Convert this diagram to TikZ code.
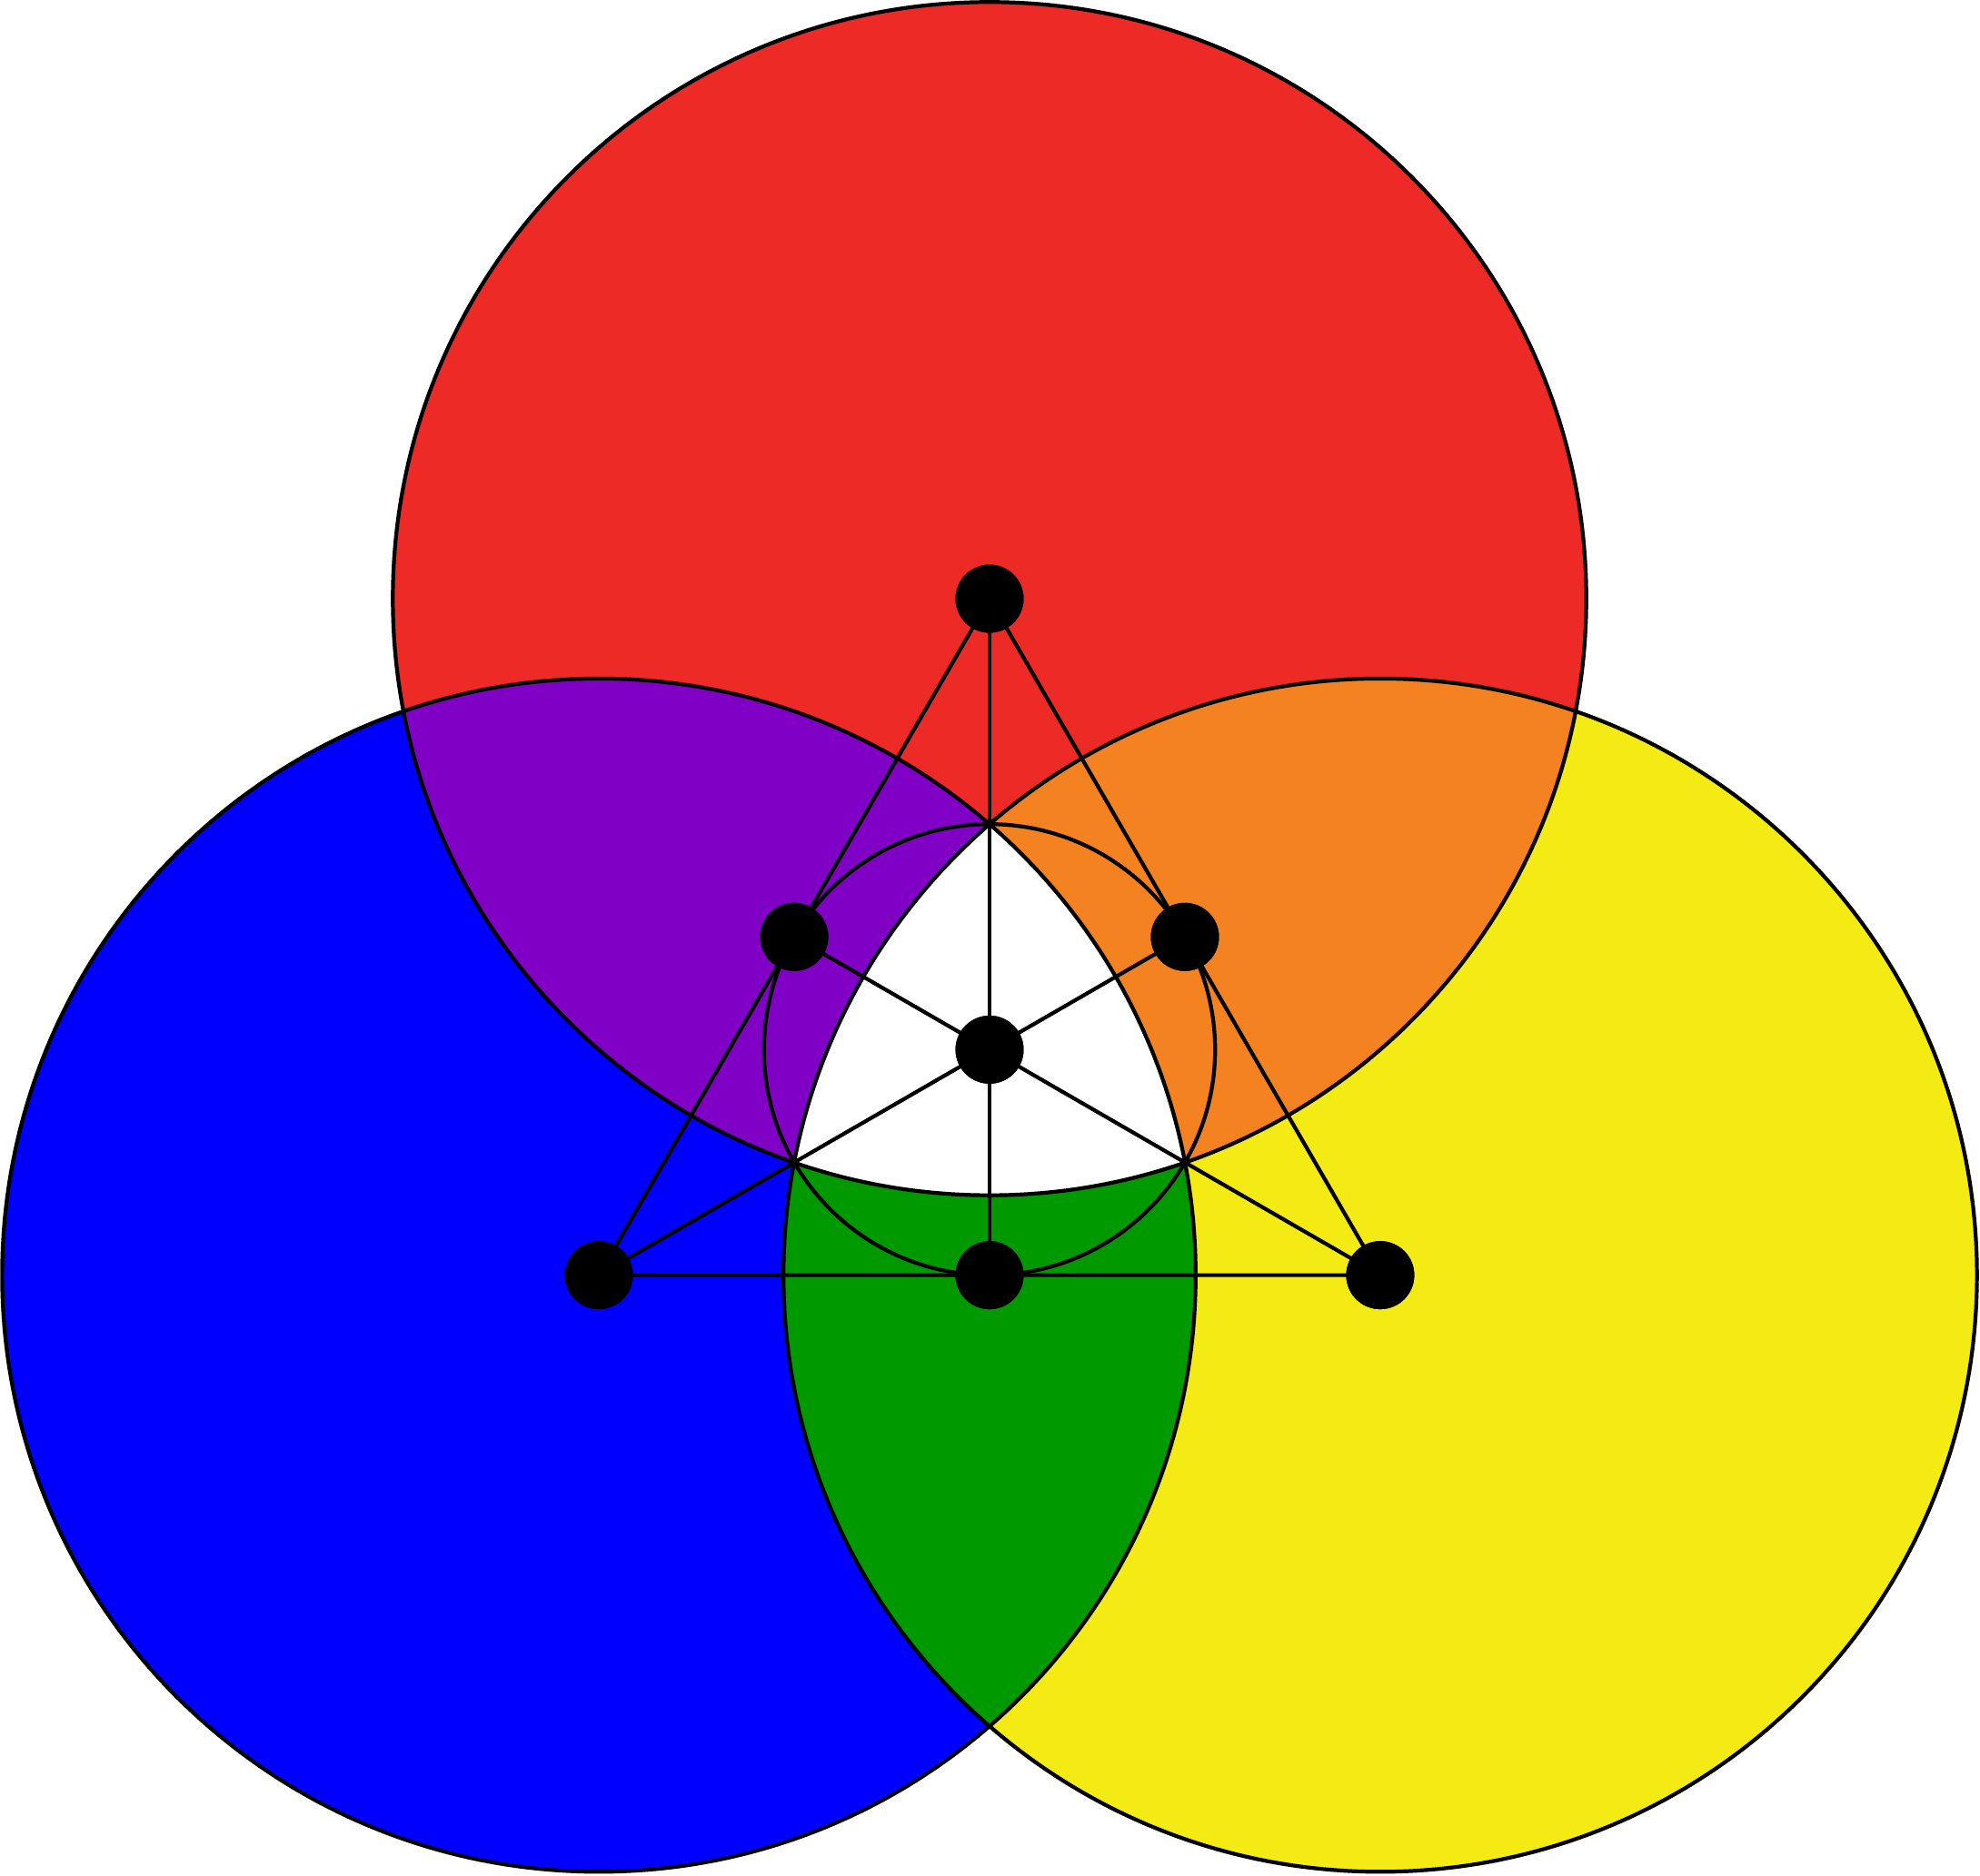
\documentclass[tikz,border=0pt]{standalone}
\usetikzlibrary{calc}
\definecolor{cred}{RGB}{238,42,39}
\definecolor{cblue}{RGB}{0,0,255}
\definecolor{cyellow}{RGB}{245,235,20}
\definecolor{cpurple}{RGB}{128,0,198}
\definecolor{corange}{RGB}{245,130,32}
\definecolor{cgreen}{RGB}{0,153,0}
\tikzset{
  outline/.style={draw=black, line width=0.017cm},
  edge/.style={draw=black, line width=0.017cm},
  dot/.style={circle, fill=black, inner sep=0pt, minimum size=0.302cm},
}
\begin{document}
\begin{tikzpicture}
\useasboundingbox (-4.3875,-3.6607) rectangle (4.3915,4.6551);
\def\R{2.6458}
\coordinate (R) at (0,2);
\coordinate (B) at (-1.7321,-1);
\coordinate (Y) at (1.7321,-1);
\coordinate (O) at (0,0);
% single colours
\fill[cred] (R) circle (\R);
\fill[cblue] (B) circle (\R);
\fill[cyellow] (Y) circle (\R);
% pairwise overlaps
\begin{scope}
  \clip (R) circle (\R);
  \fill[cpurple] (B) circle (\R);
  \fill[corange] (Y) circle (\R);
\end{scope}
\begin{scope}
  \clip (B) circle (\R);
  \fill[cgreen] (Y) circle (\R);
\end{scope}
% triple overlap
\begin{scope}
  \clip (R) circle (\R);
  \clip (B) circle (\R);
  \fill[white] (Y) circle (\R);
\end{scope}
% outlines
\draw[outline] (R) circle (\R);
\draw[outline] (B) circle (\R);
\draw[outline] (Y) circle (\R);
\draw[outline] (O) circle (1);
% dots
\node[dot] (r) at (R) {};
\node[dot] (b) at (B) {};
\node[dot] (y) at (Y) {};
\node[dot] (c) at (O) {};
\node[dot] (mrb) at ($(R)!0.5!(B)$) {};
\node[dot] (mry) at ($(R)!0.5!(Y)$) {};
\node[dot] (mby) at ($(B)!0.5!(Y)$) {};
% lines
\draw[edge] (r.center) -- (b.center) -- (y.center) -- cycle;
\draw[edge] (r.center) -- (mby.center);
\draw[edge] (b.center) -- (mry.center);
\draw[edge] (y.center) -- (mrb.center);
% redraw dots on top
\fill (r) circle (0.151);
\fill (b) circle (0.151);
\fill (y) circle (0.151);
\fill (c) circle (0.151);
\fill (mrb) circle (0.151);
\fill (mry) circle (0.151);
\fill (mby) circle (0.151);
\end{tikzpicture}
\end{document}
